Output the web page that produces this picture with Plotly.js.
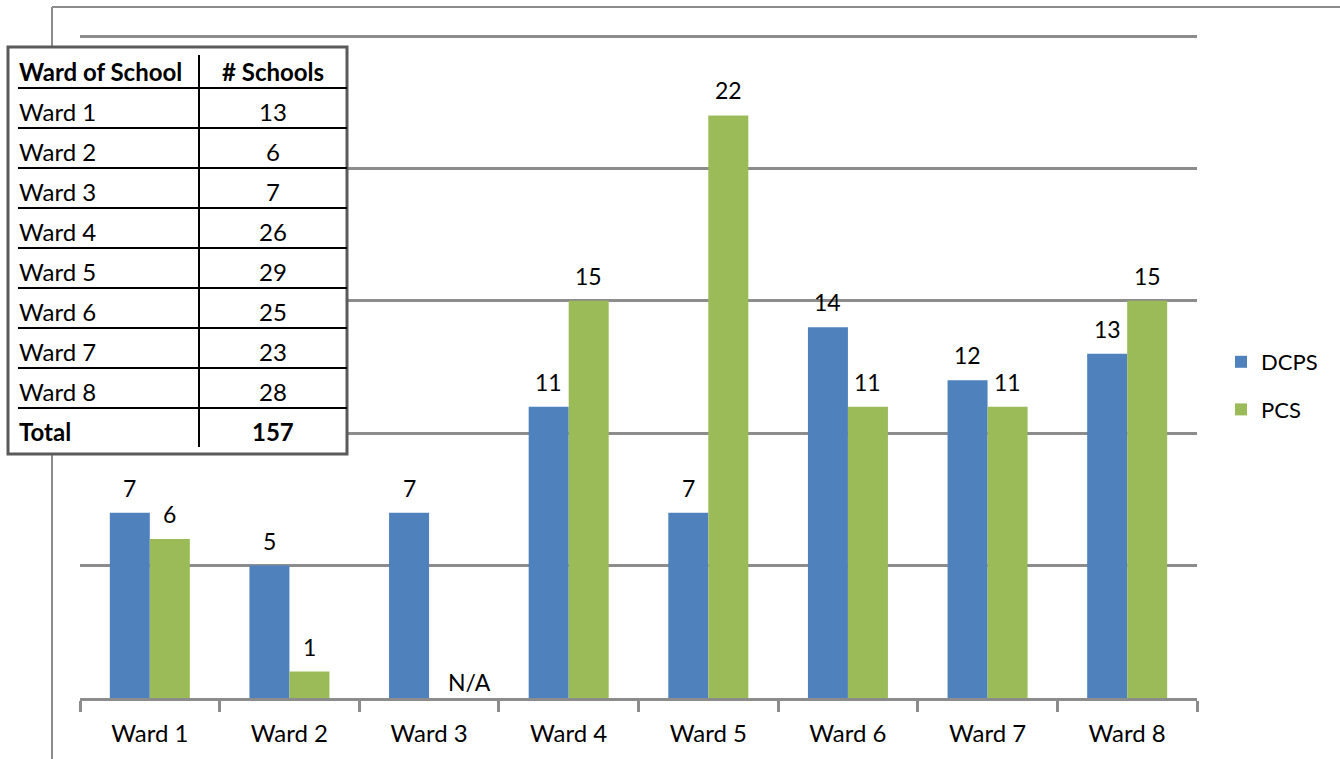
<!DOCTYPE html>
<html>
<head>
<meta charset="utf-8">
<script src="https://cdn.plot.ly/plotly-3.0.1.min.js"></script>
<style>
html,body{margin:0;padding:0;background:#fff;}
#chart{width:1340px;height:759px;}
</style>
</head>
<body>
<div id="chart"></div>
<script>
// ---- data ----
const wards = ["Ward 1","Ward 2","Ward 3","Ward 4","Ward 5","Ward 6","Ward 7","Ward 8"];
const dcps = [7, 5, 7, 11, 7, 14, 12, 13];
const pcs = [6, 1, null, 15, 22, 11, 11, 15];
const pcsLabels = ["6","1","N/A","15","22","11","11","15"];
const tableHeader = ["Ward of School", "# Schools"];
const tableWards = ["Ward 1","Ward 2","Ward 3","Ward 4","Ward 5","Ward 6","Ward 7","Ward 8"];
const tableCounts = [13, 6, 7, 26, 29, 25, 23, 28];
const tableTotal = ["Total", 157];

// ---- layout geometry (pixels) ----
const W = 1340, H = 759;
const L = 80, R = 1197, T = 33, B = 698;
const UNIT = (698 - 36) / 25;           // pixels per unit
const YMAX = (B - T) / UNIT;            // a little above 25 so the top gridline shows
const px = x => (x - L) / (R - L);
const py = y => (B - y) / (B - T);

const FONT = "Lato, 'Open Sans', sans-serif";
const GRAY = "#8c8c8c";

const traces = [
  {type:"bar", name:"DCPS", x:wards, y:dcps, marker:{color:"#4F81BD"}, legendgroup:"a", hoverinfo:"skip"},
  {type:"bar", name:"PCS", x:wards, y:pcs, marker:{color:"#9BBB59"}, legendgroup:"b", hoverinfo:"skip"}
];

const annotations = [];
const shapes = [];

// data labels
dcps.forEach((v,i)=>{
  annotations.push({x:wards[i], y:v, xref:"x", yref:"y", text:String(v), showarrow:false,
    xshift:-20, yshift:9, yanchor:"bottom", font:{family:FONT,size:23,color:"#000"}});
});
pcs.forEach((v,i)=>{
  annotations.push({x:wards[i], y:(v===null?0:v), xref:"x", yref:"y", text:pcsLabels[i], showarrow:false,
    xshift:(v===null?40:20), yshift:(v===null?0:9), yanchor:"bottom", font:{family:FONT,size:23,color:"#000"}});
});

// outer frame lines
shapes.push({type:"line", xref:"paper", yref:"paper", x0:px(52), x1:px(1345), y0:py(7), y1:py(7), line:{color:GRAY,width:2}});
shapes.push({type:"line", xref:"paper", yref:"paper", x0:px(52), x1:px(52), y0:py(7), y1:py(765), line:{color:GRAY,width:2}});

// table
shapes.push({type:"rect", xref:"paper", yref:"paper", x0:px(8), x1:px(347), y0:py(47), y1:py(454),
  fillcolor:"#fff", line:{color:"#5a5a5a",width:3}});
shapes.push({type:"line", xref:"paper", yref:"paper", x0:px(199), x1:px(199), y0:py(55), y1:py(447), line:{color:"#000",width:2}});
for (let k=0;k<9;k++){
  const yy = 88 + 40*k;
  shapes.push({type:"line", xref:"paper", yref:"paper", x0:px(18), x1:px(347), y0:py(yy), y1:py(yy), line:{color:"#000",width:2}});
}
const rowsLeft = [tableHeader[0], ...tableWards, tableTotal[0]];
const rowsRight = [tableHeader[1], ...tableCounts.map(String), String(tableTotal[1])];
rowsLeft.forEach((t,k)=>{
  const bold = (k===0 || k===rowsLeft.length-1);
  const yc = 71 + 40*k;
  annotations.push({xref:"paper", yref:"paper", x:px(17), y:py(yc), xanchor:"left", yanchor:"middle",
    text: bold ? "<b>"+t+"</b>" : t, showarrow:false, font:{family:FONT,size:24,color:"#000"}});
  annotations.push({xref:"paper", yref:"paper", x:px(273), y:py(yc), xanchor:"center", yanchor:"middle",
    text: bold ? "<b>"+rowsRight[k]+"</b>" : rowsRight[k], showarrow:false, font:{family:FONT,size:24,color:"#000"}});
});

const layout = {
  width:W, height:H,
  margin:{l:L, r:W-R, t:T, b:H-B, pad:0},
  paper_bgcolor:"#fff", plot_bgcolor:"#fff",
  barmode:"group", bargap:0.427, bargroupgap:0,
  font:{family:FONT, size:23, color:"#000"},
  xaxis:{type:"category", showline:true, linecolor:GRAY, linewidth:3, ticks:"outside", tickson:"boundaries",
    ticklen:11, tickwidth:3, tickcolor:GRAY, ticklabelstandoff:12, tickfont:{family:FONT,size:24,color:"#000"}, showgrid:false,
    fixedrange:true},
  yaxis:{range:[0,YMAX], tick0:0, dtick:5, showgrid:true, gridcolor:GRAY, gridwidth:3, showticklabels:false,
    zeroline:false, showline:false, ticks:"", fixedrange:true},
  showlegend:true,
  legend:{x:px(1221), y:py(386), xanchor:"left", yanchor:"middle", traceorder:"grouped", tracegroupgap:16,
    font:{family:FONT,size:22,color:"#000"}, bgcolor:"rgba(0,0,0,0)"},
  shapes:shapes,
  annotations:annotations
};

Plotly.newPlot("chart", traces, layout, {displayModeBar:false, staticPlot:true});
</script>
</body>
</html>
